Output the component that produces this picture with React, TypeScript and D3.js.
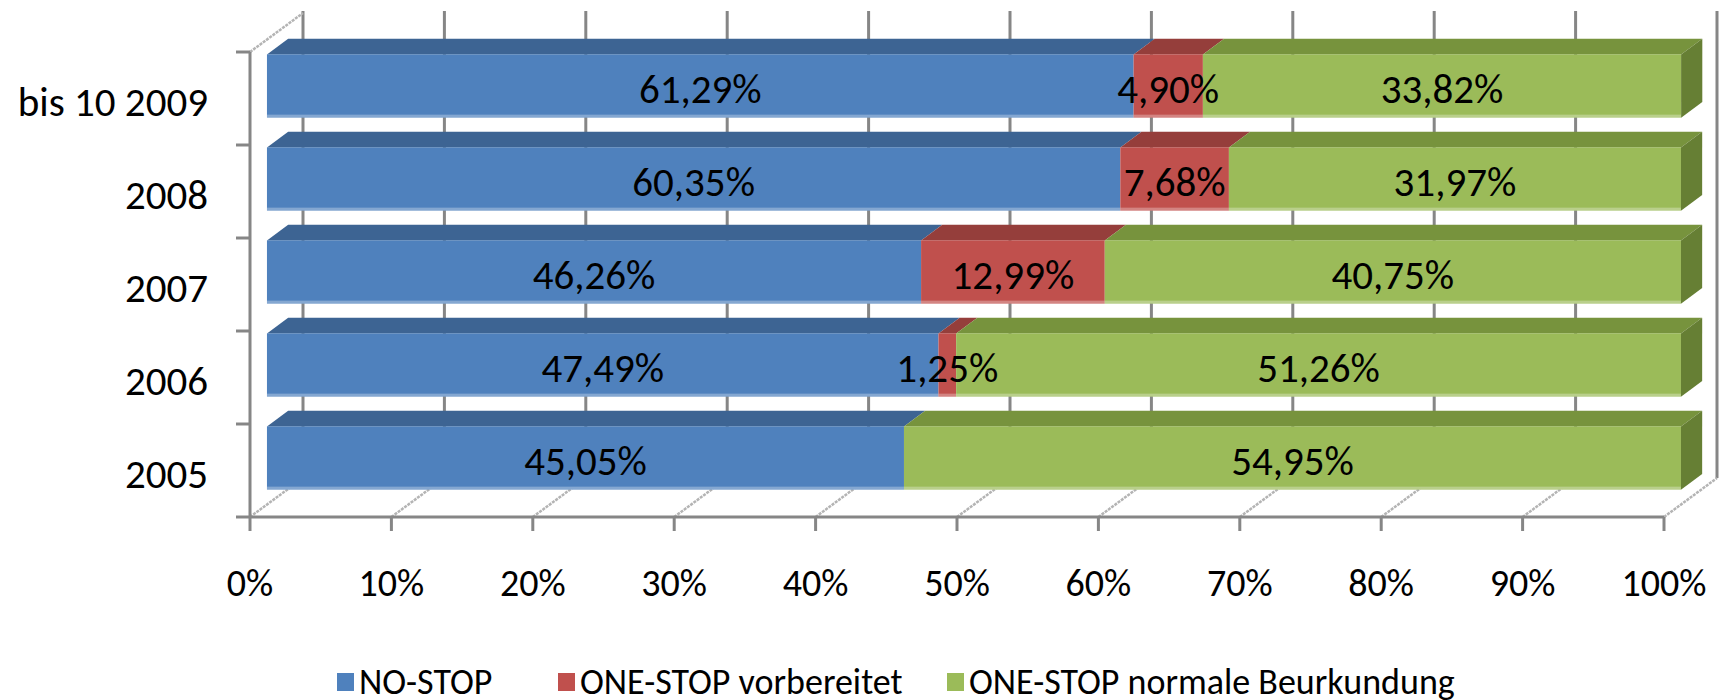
import * as d3 from "d3";
import { useEffect, useRef } from "react";

const categories = ["bis 10 2009", "2008", "2007", "2006", "2005"];
const seriesNames = ["NO-STOP", "ONE-STOP vorbereitet", "ONE-STOP normale Beurkundung"];
const noStop = [61.29, 60.35, 46.26, 47.49, 45.05];
const oneStopPrepared = [4.9, 7.68, 12.99, 1.25, 0];
const oneStopNormal = [33.82, 31.97, 40.75, 51.26, 54.95];
const xTicks = [0, 10, 20, 30, 40, 50, 60, 70, 80, 90, 100];

const frontColors = ["#4F81BD", "#C0504D", "#9BBB59"];
const topColors = ["#3D6493", "#953E3B", "#77933D"];
const sideColors = ["#335580", "#7E3230", "#667F34"];

const FONT = "Calibri, Carlito, Lato, sans-serif";

function App() {
    const ref = useRef<SVGSVGElement>(null);

    useEffect(() => {
        const svg = d3.select(ref.current);
        svg.selectAll("*").remove();

        // 3d box: front plane + depth offset
        const depthX = 53;
        const depthY = -39;
        const x = d3.scaleLinear().domain([0, 100]).range([250, 1664]);
        const y = d3.scaleBand<string>().domain(categories).range([52, 517])
            .paddingInner(0.32).paddingOuter(0.16);
        const yTop = 52;
        const yBottom = 517;
        const proj = (v: number, yy: number, z: number): [number, number] =>
            [x(v) + depthX * z, yy + depthY * z];

        const gridColor = "#868686";
        const wallColor = "#b4b4b4";

        // back wall gridlines
        const back = svg.append("g");
        back.selectAll("line")
            .data(xTicks)
            .enter()
            .append("line")
            .attr("x1", d => proj(d, yTop, 1)[0])
            .attr("x2", d => proj(d, yBottom, 1)[0])
            .attr("y1", proj(0, yTop, 1)[1] - 2)
            .attr("y2", proj(0, yBottom, 1)[1])
            .attr("stroke", gridColor)
            .attr("stroke-width", 3);

        // floor diagonals + left wall top edge
        const floor = svg.append("g");
        floor.selectAll("line")
            .data(xTicks)
            .enter()
            .append("line")
            .attr("x1", d => x(d))
            .attr("y1", yBottom)
            .attr("x2", d => proj(d, yBottom, 1)[0])
            .attr("y2", proj(0, yBottom, 1)[1])
            .attr("stroke", wallColor)
            .attr("stroke-width", 2.5)
            .attr("stroke-dasharray", "3 1");
        floor.append("line")
            .attr("x1", x(0)).attr("y1", yTop)
            .attr("x2", proj(0, yTop, 1)[0]).attr("y2", proj(0, yTop, 1)[1])
            .attr("stroke", wallColor)
            .attr("stroke-width", 2.5)
            .attr("stroke-dasharray", "3 1");

        // stacked bars
        const z0 = 0.32;
        const z1 = 0.72;
        const series = [noStop, oneStopPrepared, oneStopNormal];
        const bars = svg.append("g");
        categories.forEach((cat, i) => {
            const yb = y(cat)!;
            const h = y.bandwidth();
            let acc = 0;
            const segs = series.map((s, k) => {
                const seg = { k, v0: acc, v1: acc + s[i], value: s[i] };
                acc += s[i];
                return seg;
            }).filter(s => s.value > 0);
            const g = bars.append("g");
            segs.forEach((s, idx) => {
                const a = proj(s.v0, yb, z0);
                const b = proj(s.v1, yb, z0);
                const c = proj(s.v1, yb, z1);
                const d = proj(s.v0, yb, z1);
                g.append("path")
                    .attr("d", `M${a}L${b}L${c}L${d}Z`)
                    .attr("fill", topColors[s.k]);
                g.append("rect")
                    .attr("x", a[0])
                    .attr("y", a[1])
                    .attr("width", b[0] - a[0])
                    .attr("height", h)
                    .attr("fill", frontColors[s.k]);
                g.append("rect")
                    .attr("x", a[0])
                    .attr("y", a[1] + h - 3)
                    .attr("width", b[0] - a[0])
                    .attr("height", 3)
                    .attr("fill", "#ffffff")
                    .attr("opacity", 0.3);
                if (idx === segs.length - 1) {
                    const bb = proj(s.v1, yb + h, z0);
                    const cc = proj(s.v1, yb + h, z1);
                    g.append("path")
                        .attr("d", `M${b}L${c}L${cc}L${bb}Z`)
                        .attr("fill", sideColors[s.k]);
                }
            });
            g.selectAll("text")
                .data(segs)
                .enter()
                .append("text")
                .attr("x", s => proj((s.v0 + s.v1) / 2, yb, z0)[0])
                .attr("y", s => proj(0, yb + h / 2, z0)[1] + 3)
                .attr("text-anchor", "middle")
                .attr("dominant-baseline", "central")
                .attr("font-family", FONT)
                .attr("font-size", 41)
                .attr("fill", "#000")
                .text(s => s.value.toFixed(2).replace(".", ",") + "%");
        });

        // front axes
        const axes = svg.append("g")
            .attr("stroke", gridColor)
            .attr("stroke-width", 3);
        axes.append("line")
            .attr("x1", x(0)).attr("x2", x(0))
            .attr("y1", yTop).attr("y2", yBottom);
        axes.append("line")
            .attr("x1", x(0)).attr("x2", x(100))
            .attr("y1", yBottom).attr("y2", yBottom);
        const catEdges = d3.range(categories.length + 1).map(i => yTop + (yBottom - yTop) * i / categories.length);
        axes.selectAll(".ytick")
            .data(catEdges)
            .enter()
            .append("line")
            .attr("x1", x(0) - 14).attr("x2", x(0))
            .attr("y1", d => d).attr("y2", d => d);
        axes.selectAll(".xtick")
            .data(xTicks)
            .enter()
            .append("line")
            .attr("x1", d => x(d)).attr("x2", d => x(d))
            .attr("y1", yBottom).attr("y2", yBottom + 14);

        // category labels
        svg.append("g")
            .selectAll("text")
            .data(categories)
            .enter()
            .append("text")
            .attr("x", 208)
            .attr("y", d => y(d)! + y.bandwidth() / 2 + 3)
            .attr("text-anchor", "end")
            .attr("dominant-baseline", "central")
            .attr("font-family", FONT)
            .attr("font-size", 41)
            .text(d => d);

        // x tick labels
        svg.append("g")
            .selectAll("text")
            .data(xTicks)
            .enter()
            .append("text")
            .attr("x", d => x(d))
            .attr("y", 596)
            .attr("text-anchor", "middle")
            .attr("font-family", FONT)
            .attr("font-size", 38)
            .text(d => d + "%");

        // legend
        const legendX = [337, 558, 947];
        const legend = svg.append("g")
            .selectAll("g")
            .data(seriesNames)
            .enter()
            .append("g")
            .attr("transform", (d, i) => `translate(${legendX[i]},682)`);
        legend.append("rect")
            .attr("x", 0).attr("y", -9)
            .attr("width", 17).attr("height", 18)
            .attr("fill", (d, i) => frontColors[i]);
        legend.append("text")
            .attr("x", 22)
            .attr("y", 12)
            .attr("font-family", FONT)
            .attr("font-size", 36)
            .text(d => d);
    }, []);

    return (
        <svg ref={ref} width={1722} height={700}
            style={{ position: "absolute", left: 0, top: 0, background: "#fff" }} />
    );
}

export default App;
